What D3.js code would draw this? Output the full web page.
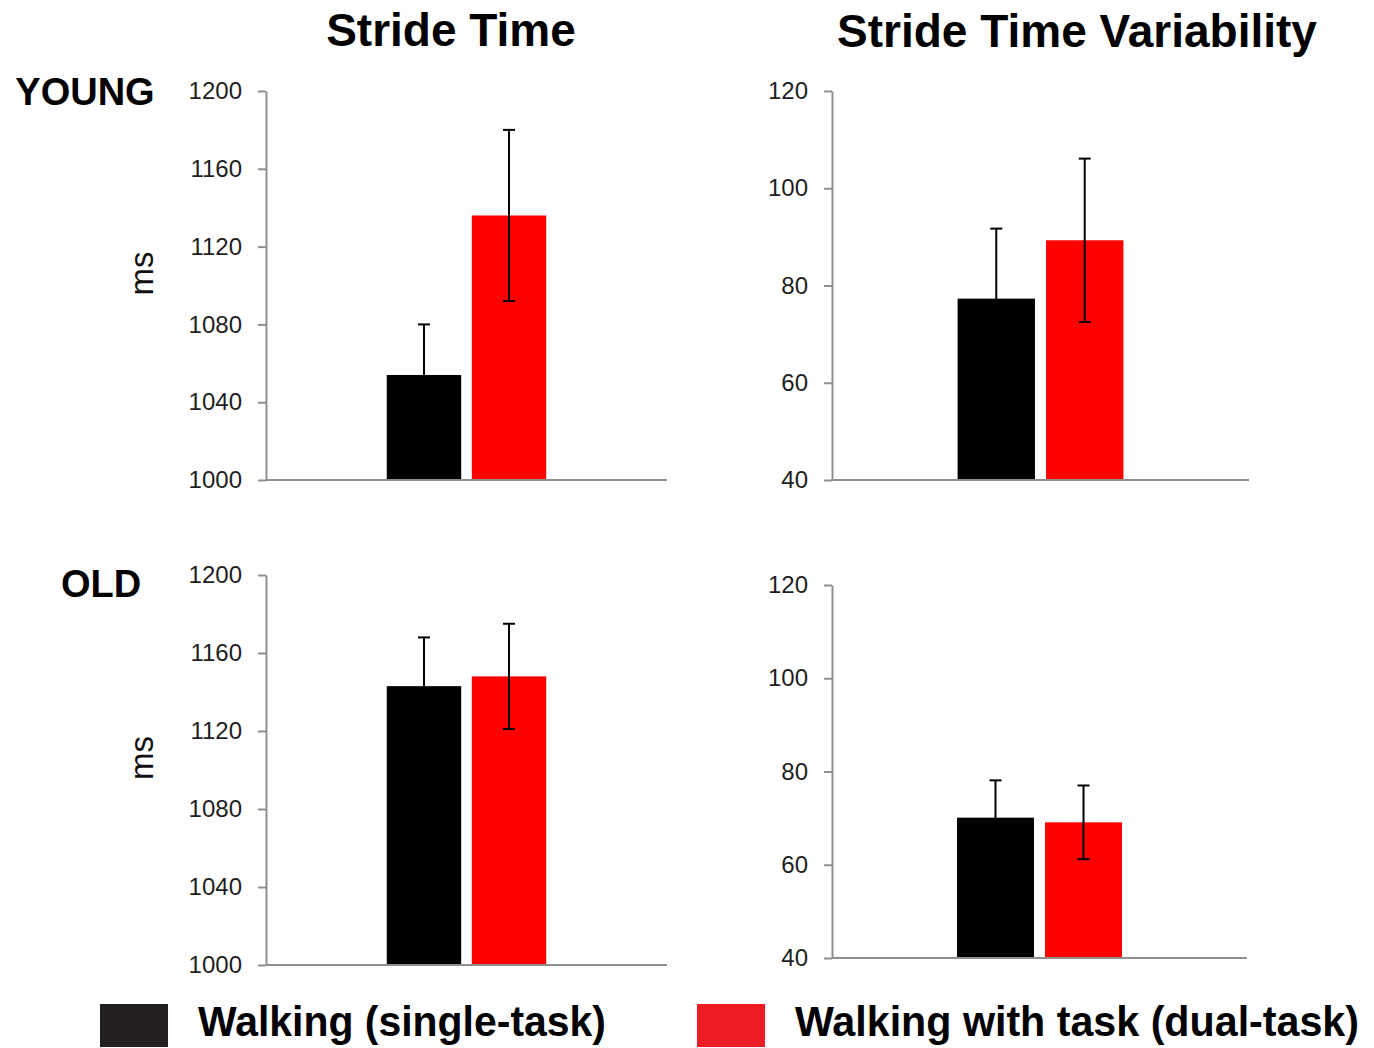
<!DOCTYPE html>
<html>
<head>
<meta charset="utf-8">
<script src="https://cdn.jsdelivr.net/npm/d3@7"></script>
<style>
  body { margin: 0; background: #fff; }
  svg { display: block; font-family: "Liberation Sans", Arial, sans-serif; }
  .axis text { font-size: 24px; fill: #1e1e1e; }
  .axis path, .axis line { stroke: #8f8f8f; stroke-width: 2px; }
</style>
</head>
<body>
<svg id="chart" width="1374" height="1048"></svg>
<script>
// conditions (legend order)
const conditions = ['Walking (single-task)', 'Walking with task (dual-task)'];
const barColors = ['#000000', '#ff0000'];
const legendColors = ['#231f20', '#ed1c24'];

// stride time, ms (mean, error)
const strideYoung = [1054, 1136];
const strideYoungErr = [26, 44];
const strideOld = [1143, 1148];
const strideOldErr = [25, 27];

// stride time variability (mean, error)
const varYoung = [77.3, 89.3];
const varYoungErr = [14.4, 16.8];
const varOld = [70.1, 69.1];
const varOldErr = [8, 7.9];

// axis ticks
const strideTicks = [1000, 1040, 1080, 1120, 1160, 1200];
const varTicks = [40, 60, 80, 100, 120];

const svg = d3.select('#chart');

const panels = [
  {x0: 266, x1: 667, y0: 91, y1: 480, values: strideYoung, errs: strideYoungErr, ticks: strideTicks, ms: true},
  {x0: 832, x1: 1249, y0: 91, y1: 480, values: varYoung, errs: varYoungErr, ticks: varTicks},
  {x0: 266, x1: 667, y0: 575, y1: 965, values: strideOld, errs: strideOldErr, ticks: strideTicks, ms: true},
  {x0: 832, x1: 1247, y0: 585, y1: 958, values: varOld, errs: varOldErr, ticks: varTicks}
];

panels.forEach(p => {
  const x = d3.scaleBand()
    .domain(d3.range(conditions.length))
    .range([p.x0, p.x1])
    .paddingInner(0.125)
    .paddingOuter(1.42);

  const y = d3.scaleLinear()
    .domain(d3.extent(p.ticks))
    .range([p.y1, p.y0]);

  const data = p.values.map((v, i) => ({i, v, e: p.errs[i]}));

  // bars
  svg.append('g').selectAll('rect').data(data)
    .join('rect')
    .attr('x', d => x(d.i))
    .attr('y', d => y(d.v))
    .attr('width', x.bandwidth())
    .attr('height', d => y(y.domain()[0]) - y(d.v))
    .attr('fill', d => barColors[d.i]);

  // error bars
  const eb = svg.append('g')
    .attr('stroke', '#000')
    .attr('stroke-width', 2)
    .selectAll('g').data(data).join('g');
  const cx = d => x(d.i) + x.bandwidth() / 2;
  eb.append('line')
    .attr('x1', cx).attr('x2', cx)
    .attr('y1', d => y(d.v + d.e)).attr('y2', d => y(d.v - d.e));
  eb.append('line')
    .attr('x1', d => cx(d) - 6).attr('x2', d => cx(d) + 6)
    .attr('y1', d => y(d.v + d.e)).attr('y2', d => y(d.v + d.e));
  eb.append('line')
    .attr('x1', d => cx(d) - 6).attr('x2', d => cx(d) + 6)
    .attr('y1', d => y(d.v - d.e)).attr('y2', d => y(d.v - d.e));

  // y axis
  svg.append('g')
    .attr('class', 'axis')
    .attr('transform', `translate(${p.x0},0)`)
    .call(d3.axisLeft(y).tickValues(p.ticks).tickFormat(d3.format('d'))
      .tickSize(8).tickPadding(16).tickSizeOuter(0));

  // baseline
  svg.append('line')
    .attr('x1', p.x0).attr('x2', p.x1)
    .attr('y1', p.y1).attr('y2', p.y1)
    .attr('stroke', '#8f8f8f')
    .attr('stroke-width', 2);

  if (p.ms) {
    svg.append('text')
      .attr('transform', `translate(153,${(p.y0 + p.y1) / 2 - 12}) rotate(-90)`)
      .attr('text-anchor', 'middle')
      .style('font-size', '33px')
      .attr('fill', '#111')
      .text('ms');
  }
});

// column titles
svg.append('text')
  .attr('x', 451).attr('y', 46)
  .attr('text-anchor', 'middle')
  .style('font-size', '46px').style('font-weight', 'bold')
  .text('Stride Time');
svg.append('text')
  .attr('x', 1077).attr('y', 47)
  .attr('text-anchor', 'middle')
  .style('font-size', '46px').style('font-weight', 'bold')
  .text('Stride Time Variability');

// row labels
svg.append('text')
  .attr('x', 85).attr('y', 105)
  .attr('text-anchor', 'middle')
  .style('font-size', '38px').style('font-weight', 'bold')
  .text('YOUNG');
svg.append('text')
  .attr('x', 101).attr('y', 597)
  .attr('text-anchor', 'middle')
  .style('font-size', '38px').style('font-weight', 'bold')
  .text('OLD');

// legend
const legendX = [100, 697];
const legendW = [408, 564];
const legend = svg.append('g').selectAll('g').data(conditions).join('g');
legend.append('rect')
  .attr('x', (d, i) => legendX[i]).attr('y', 1004)
  .attr('width', 68).attr('height', 43)
  .attr('fill', (d, i) => legendColors[i]);
legend.append('text')
  .attr('x', (d, i) => legendX[i] + 98).attr('y', 1036)
  .attr('textLength', (d, i) => legendW[i])
  .attr('lengthAdjust', 'spacingAndGlyphs')
  .style('font-size', '42px').style('font-weight', 'bold')
  .text(d => d);
</script>
</body>
</html>
